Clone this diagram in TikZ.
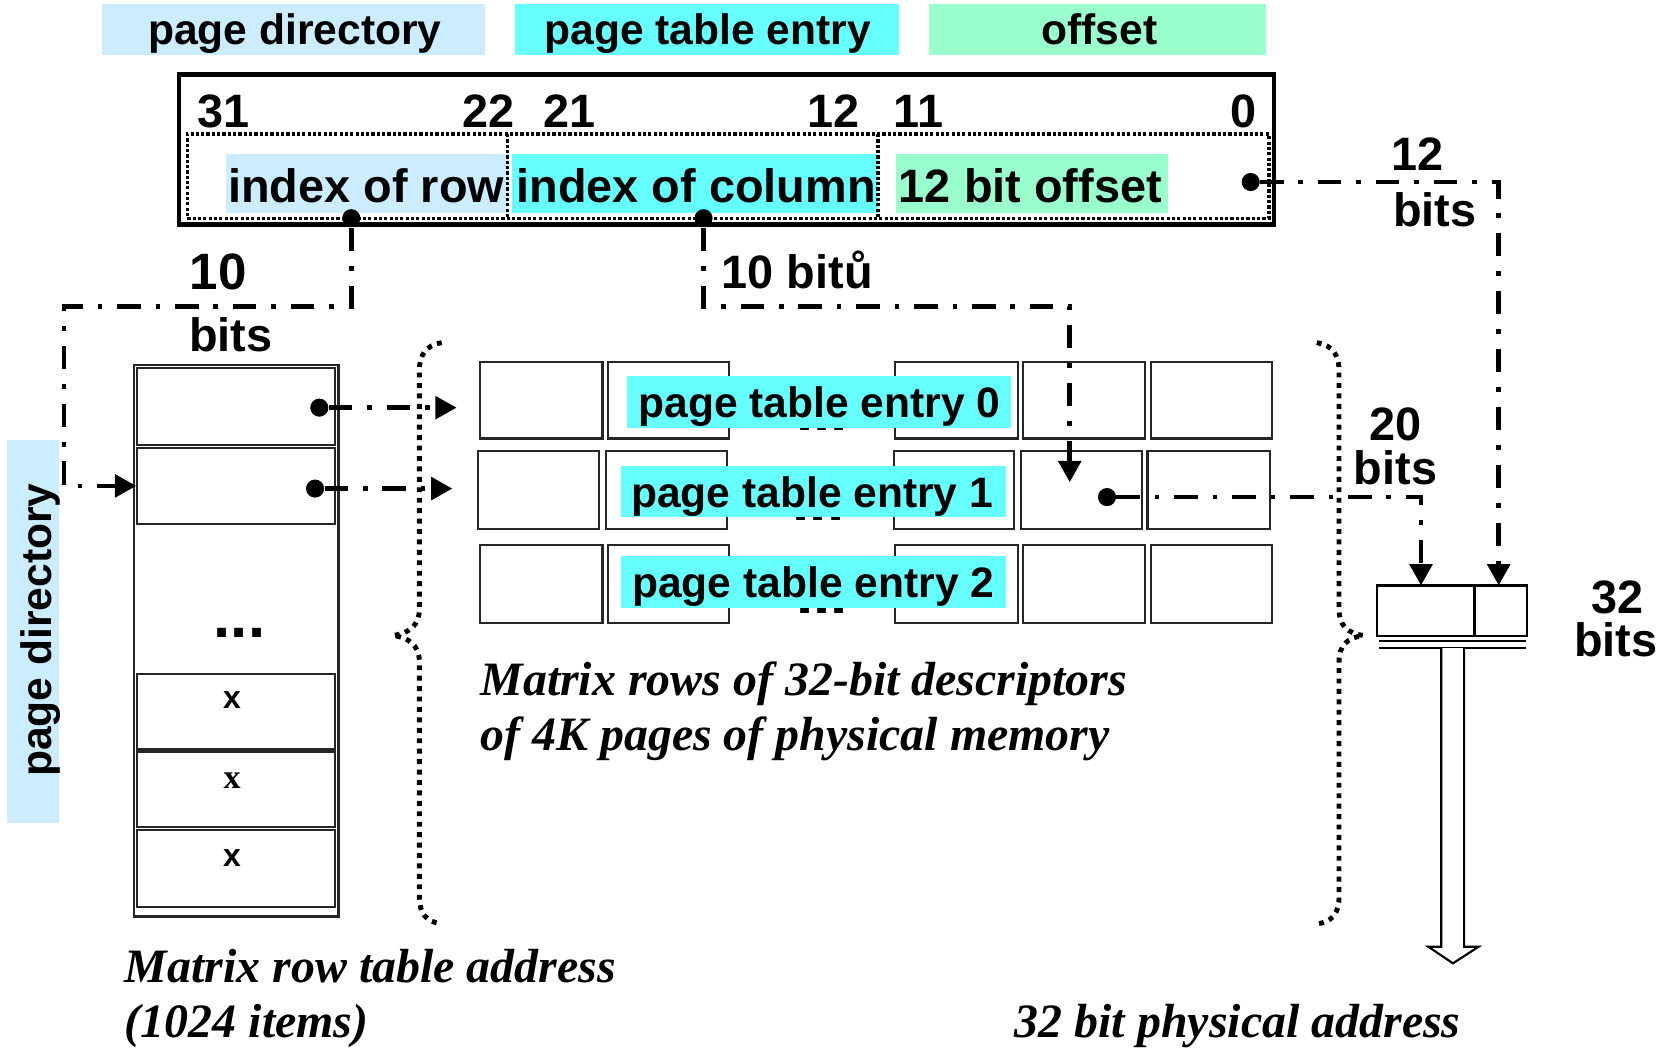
\documentclass[tikz,border=0pt]{standalone}
\usepackage{fontspec}
\setmainfont{Liberation Sans}
\newfontfamily\timesfam{Liberation Serif}
\usetikzlibrary{arrows.meta,fit}

\definecolor{dirblue}{HTML}{CCECFF}
\definecolor{ptecyan}{HTML}{66FFFF}
\definecolor{offgreen}{HTML}{99FFCC}

\newcommand\sansb[1]{\fontsize{#1}{#1}\selectfont\bfseries}
\newcommand\capfont{\timesfam\bfseries\itshape\fontsize{22.5pt}{27pt}\selectfont}

\tikzset{
  lbl/.style={inner sep=0pt, anchor=base, font=\sansb{22pt}},
  lblmid/.style={lbl, font=\sansb{20pt}},
  caption/.style={inner sep=0pt, anchor=base west, font=\capfont},
  hl/.style={fill=#1, draw=none, inner sep=0pt},
  cell/.style={draw=black!85, line width=1pt, inner sep=0pt},
  dot/.style={circle, fill=black, inner sep=0pt, minimum size=8.5pt},
  link/.style={line width=2.2pt, dash pattern=on 11pt off 7pt on 2.2pt off 7pt},
  conn/.style={link, -{Triangle[length=10pt,width=10.5pt]}},
  dotline/.style={line width=1.6pt, dash pattern=on 1.5pt off 1pt},
  brace/.style={line width=2.3pt, dash pattern=on 2.3pt off 2.6pt},
  ellip/.style={inner sep=0pt, anchor=base, font=\sansb{29pt}}
}

\begin{document}
\begin{tikzpicture}[x=0.5pt,y=-0.5pt]
\useasboundingbox (0,0) rectangle (1568,985);

% ---- field legend along the top
\node[hl=dirblue, fit={(96,4) (456,52)}] (legDir) {};
\node[hl=ptecyan, fit={(484,4) (845,52)}] (legPte) {};
\node[hl=offgreen, fit={(873,4) (1189,52)}] (legOff) {};
\node[lblmid] (legDirT) at (277,42) {page directory};
\node[lblmid] (legPteT) at (665,42) {page table entry};
\node[lblmid] (legOffT) at (1033,42) {offset};

% ---- 32-bit linear address
\node[hl=dirblue, fit={(212,145) (477,200)}] (fRowBg) {};
\node[hl=ptecyan, fit={(481,145) (825,200)}] (fColBg) {};
\node[hl=offgreen, fit={(842,145) (1097,200)}] (fOffBg) {};
\node[draw, line width=2pt, inner sep=0pt, fit={(168,70) (1197,211)}] (addr) {};
\node[draw, dotline, inner sep=0pt, fit={(176,126) (1192,205)}] (fields) {};
\draw[dotline] (477,126) -- (477,205);
\draw[dotline] (825,126) -- (825,205);

\node[lbl] (n31) at (210,120) {31};
\node[lbl] (n22) at (459,120) {22};
\node[lbl] (n21) at (535,120) {21};
\node[lbl] (n12) at (783,120) {12};
\node[lbl] (n11) at (863,120) {11};
\node[lbl] (n0)  at (1168,120) {0};

\node[lbl] (fRow) at (344,190) {index of row};
\node[lbl] (fCol) at (654,190) {index of column};
\node[lbl] (fOff) at (968,190) {12 bit offset};

\node[dot] (dA) at (330,205) {};
\node[dot] (dB) at (661,205) {};
\node[dot] (dC) at (1175,171) {};

% ---- page directory table
\node[cell, fit={(126,343) (318,861)}] (pdtab) {};
\node[cell, fit={(129,346) (315,418)}] (pd0) {};
\node[cell, fit={(129,421) (315,492)}] (pd1) {};
\node[cell, fit={(129,633) (315,704)}] (pdx1) {};
\node[cell, fit={(129,706) (315,777)}] (pdx2) {};
\node[cell, fit={(129,780) (315,852)}] (pdx3) {};
\node[ellip] (pdDots) at (225,599) {...};
\node[font=\sansb{15pt}, inner sep=0pt] (x1) at (218,658) {x};
\node[font=\timesfam\bfseries\fontsize{16pt}{16pt}\selectfont, inner sep=0pt] (x2) at (218,733) {x};
\node[font=\sansb{15pt}, inner sep=0pt] (x3) at (218,806) {x};
\node[dot] (pd0dot) at (300,383) {};
\node[dot] (pd1dot) at (296,459) {};

\node[hl=dirblue, fit={(7,413) (55,773)}] (sideBg) {};
\node[lblmid, rotate=90] (sideT) at (48,592) {page directory};

% ---- page table rows
\node[cell, fit={(451,340) (566,412)}] (m00) {};
\node[cell, fit={(571,340) (685,412)}] (m01) {};
\node[cell, fit={(841,340) (956,412)}] (m02) {};
\node[cell, fit={(961,340) (1076,412)}] (m03) {};
\node[cell, fit={(1081,340) (1195,412)}] (m04) {};
\node[cell, fit={(449,424) (563,497)}] (m10) {};
\node[cell, fit={(569,424) (683,497)}] (m11) {};
\node[cell, fit={(840,424) (953,497)}] (m12) {};
\node[cell, fit={(959,424) (1073,497)}] (m13) {};
\node[cell, fit={(1078,424) (1193,497)}] (m14) {};
\node[cell, fit={(451,512) (566,585)}] (m20) {};
\node[cell, fit={(571,512) (685,585)}] (m21) {};
\node[cell, fit={(841,512) (956,585)}] (m22) {};
\node[cell, fit={(961,512) (1076,585)}] (m23) {};
\node[cell, fit={(1081,512) (1195,585)}] (m24) {};
\node[ellip] (mDots0) at (772,404) {...};
\node[ellip] (mDots1) at (769,489) {...};
\node[ellip] (mDots2) at (772,576) {...};
\node[hl=ptecyan, fit={(589,353) (950,402)}] (pte0Bg) {};
\node[hl=ptecyan, fit={(583,438) (945,486)}] (pte1Bg) {};
\node[hl=ptecyan, fit={(583,522) (945,571)}] (pte2Bg) {};
\node[lblmid] (pte0) at (770,392) {page table entry 0};
\node[lblmid] (pte1) at (763,477) {page table entry 1};
\node[lblmid] (pte2) at (764,561) {page table entry 2};
\node[dot] (dD) at (1040,467) {};

% ---- dotted braces round the page table rows
\draw[brace] (415,322) .. controls (400,324) and (394,334) .. (394,348) -- (394,572)
  .. controls (394,588) and (384,595) .. (369,597)
  .. controls (384,599) and (394,606) .. (394,622) -- (394,842)
  .. controls (394,858) and (400,866) .. (415,868);
\draw[brace] (1237,322) .. controls (1252,324) and (1258,334) .. (1258,348) -- (1258,572)
  .. controls (1258,588) and (1266,595) .. (1281,597)
  .. controls (1266,599) and (1258,606) .. (1258,622) -- (1258,842)
  .. controls (1258,858) and (1252,866) .. (1237,868);

% ---- 32-bit physical address register
\node[cell, draw=black, line width=1.2pt, fit={(1293.5,550) (1385,597.5)}] (paHi) {};
\node[cell, draw=black, line width=1.2pt, fit={(1385,550) (1434.5,597.5)}] (paLo) {};
\draw[line width=1.1pt] (1296,602) -- (1434,602);
\draw[line width=1.1pt] (1296,609) -- (1434,609);
\draw[line width=1pt, fill=white] (1354,609) -- (1354,889.5) -- (1342,889.5) -- (1365,905)
  -- (1389,889.5) -- (1375.5,889.5) -- (1375.5,609);

% ---- bit-width labels
\node[font=\sansb{24pt}, inner sep=0pt, anchor=base] (w10a) at (205,272) {10};
\node[lbl] (w10b) at (217,330) {bits};
\node[lbl] (w10c) at (749,271) {10 bitů};
\node[lbl] (w12a) at (1332,160) {12};
\node[lbl] (w12b) at (1348,213) {bits};
\node[lbl] (w20a) at (1311,414) {20};
\node[lbl] (w20b) at (1311,455) {bits};
\node[lbl] (w32a) at (1520,576) {32};
\node[lbl] (w32b) at (1518,617) {bits};

% ---- captions
\node[caption] (capRows1) at (451,653) {Matrix rows of 32-bit descriptors};
\node[caption] (capRows2) at (451,705) {of 4K pages of physical memory};
\node[caption] (capDir1) at (117,923) {Matrix row table address};
\node[caption] (capDir2) at (117,975) {(1024 items)};
\node[caption] (capPhys) at (953,975) {32 bit physical address};

% ---- connector end points
\coordinate (row0in) at (429,383);
\coordinate (row1in) at (425,459);
\coordinate (colpick) at (1005,453);
\coordinate (inHi) at (1335,550);
\coordinate (inLo) at (1408,550);

% ---- connectors
\draw[conn] (dA) |- (60,288) |- (pd1.west);
\draw[conn] (dB) |- (1005,288) -- (colpick);
\draw[conn] (dC) -| (inLo);
\draw[conn] (dD) -| (inHi);
\draw[conn] (pd0dot) -- (row0in);
\draw[conn] (pd1dot) -- (row1in);
\end{tikzpicture}
\end{document}
